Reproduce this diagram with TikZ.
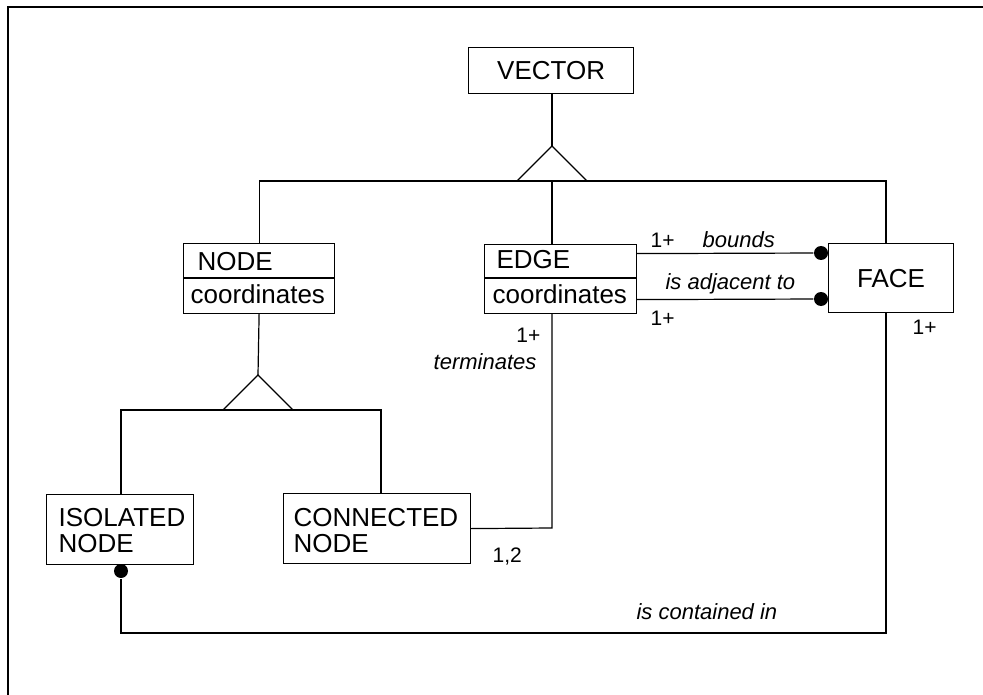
\documentclass[tikz,border=0pt]{standalone}
\usepackage{fontspec}
\setmainfont{Liberation Sans}
\begin{document}
\begin{tikzpicture}[x=1pt,y=-1pt, line width=1.2pt,
  box/.style={draw, line width=1.2pt, inner sep=0pt, anchor=north west},
  big/.style={font=\fontsize{26}{27}\selectfont, inner sep=0pt},
  lab/.style={font=\fontsize{22}{24}\selectfont\itshape, inner sep=0pt},
  num/.style={font=\fontsize{21}{23}\selectfont, inner sep=0pt},
  dot/.style={circle, fill, inner sep=0pt, minimum size=14pt}]
\useasboundingbox (0,0) rectangle (983,695);
\draw[line width=2.2pt] (8,695) -- (8,7) -- (983,7);

% boxes
\node[box, minimum width=165pt, minimum height=46pt] (vector) at (468,47) {};
\node[big] (vectort) at (vector.center) {VECTOR};
\node[box, minimum width=151pt, minimum height=70pt] (nodebox) at (183,243) {};
\node[big, anchor=base west] (nodet) at (197,270) {NODE};
\node[big, anchor=base west] (nodec) at (190,303) {coordinates};
\draw ([yshift=-35pt]nodebox.north west) -- ([yshift=-35pt]nodebox.north east);
\node[box, minimum width=152pt, minimum height=69pt] (edge) at (484,244) {};
\node[big, anchor=base west] (edget) at (496,269) {EDGE};
\node[big, anchor=base west] (edgec) at (492,303) {coordinates};
\draw ([yshift=-34pt]edge.north west) -- ([yshift=-34pt]edge.north east);
\node[box, minimum width=125pt, minimum height=69pt] (face) at (828,243) {};
\node[big] (facet) at (face.center) {FACE};
\node[box, minimum width=147pt, minimum height=70pt] (iso) at (46,494) {};
\node[big, anchor=base west] (isot1) at (58,526) {ISOLATED};
\node[big, anchor=base west] (isot2) at (58,552) {NODE};
\node[box, minimum width=187pt, minimum height=70pt] (conn) at (283,493) {};
\node[big, anchor=base west] (connt1) at (293,526) {CONNECTED};
\node[big, anchor=base west] (connt2) at (293,552) {NODE};

% generalization 1
\coordinate (apex1) at (552,146);
\coordinate (bl1) at (517,181);
\coordinate (br1) at (587,181);
\coordinate (hl) at (258,181);
\coordinate (hr) at (886,181);
\draw (552,93) -- (apex1);
\draw (apex1) -- (bl1) -- (br1) -- cycle;
\draw (nodebox.north) -- (nodebox.north |- hl) -- (hr) -- (hr |- face.north);
\draw (552,181) -- (552,244);

% generalization 2
\coordinate (apex2) at (258,375);
\coordinate (bl2) at (223,410);
\coordinate (br2) at (293,410);
\draw (nodebox.south) -- (apex2);
\draw (apex2) -- (bl2) -- (br2) -- cycle;
\draw (121,494) -- (121,410) -- (381,410) -- (381,493);

% edge - connected node
\draw (conn.east) -- (552,528) -- (552,313);

% edge - face
\node[dot] (d1) at (821,253) {};
\node[dot] (d2) at (821,299) {};
\draw ([yshift=25.5pt]edge.east) -- (d1);
\draw ([yshift=-20.5pt]edge.east) -- (d2);

% face - isolated node
\node[dot] (d3) at (121,571) {};
\draw (886,312) -- (886,633) -- (121,633) -- (d3);

% labels
\node[num, anchor=west] (m1) at (650,240) {1+};
\node[lab, anchor=west] (l1) at (702,240) {bounds};
\node[lab, anchor=west] (l2) at (665,284) {is adjacent to};
\node[num, anchor=west] (m2) at (650,318) {1+};
\node[num, anchor=east] (m3) at (541,335) {1+};
\node[lab, anchor=east] (l3) at (537,362) {terminates};
\node[num, anchor=west] (m4) at (912,327) {1+};
\node[num, anchor=west] (m5) at (492,557) {1,2};
\node[lab, anchor=west] (l4) at (636,612) {is contained in};
\end{tikzpicture}
\end{document}
